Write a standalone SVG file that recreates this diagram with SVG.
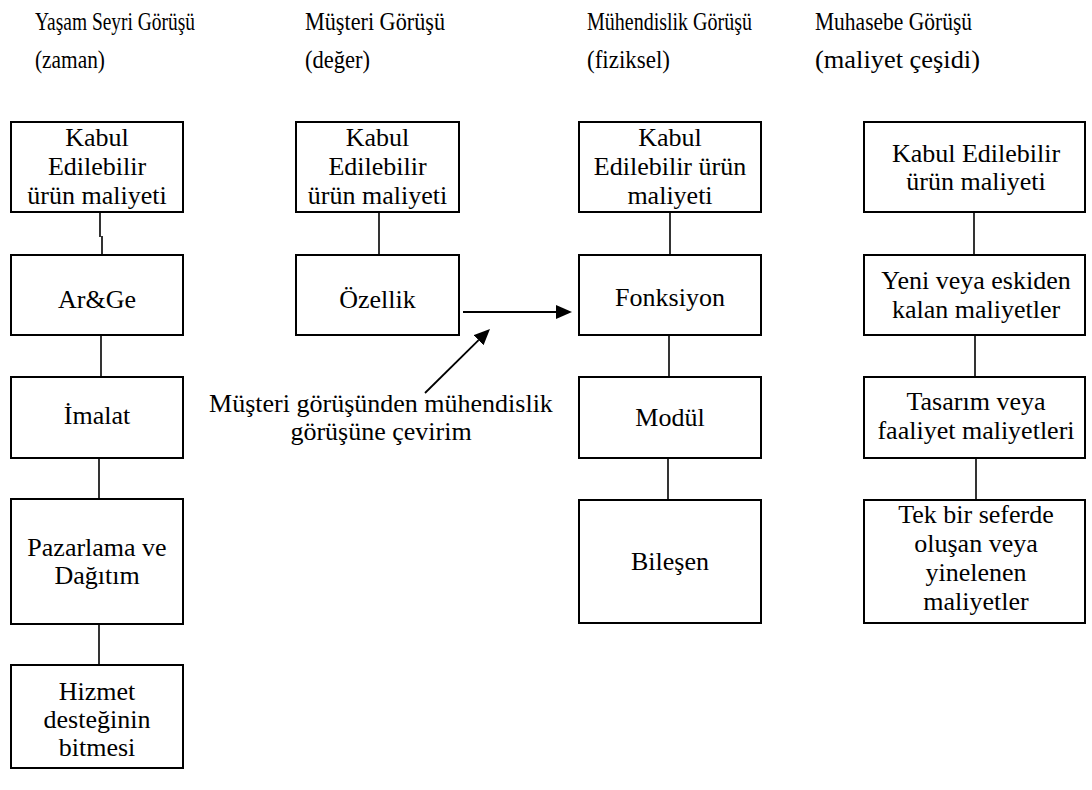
<svg xmlns="http://www.w3.org/2000/svg" width="1092" height="790" viewBox="0 0 1092 790">
  <style>
    .box { fill: #ffffff; stroke: #000000; stroke-width: 2; }
    .t { font-family: "Liberation Serif", "Times New Roman", Tinos, "DejaVu Serif", serif; font-size: 26px; fill: #000000; text-anchor: middle; }
    .h { font-family: "Liberation Serif", "Times New Roman", Tinos, "DejaVu Serif", serif; font-size: 26px; fill: #000000; }
    .link { fill: none; stroke: #000000; stroke-width: 1.6; }
    .arrow { fill: none; stroke: #000000; stroke-width: 1.8; }
  </style>
  <defs>
    <marker id="head" markerUnits="userSpaceOnUse" markerWidth="17" markerHeight="15" refX="0" refY="7" orient="auto">
      <path d="M0,0 L16,7 L0,14 z" fill="#000000"/>
    </marker>
  </defs>
  <rect width="1092" height="790" fill="#ffffff"/>

  <!-- column headings -->
  <g id="headings">
    <text class="h" x="35" y="30" textLength="160" lengthAdjust="spacingAndGlyphs">Yaşam Seyri Görüşü</text>
    <text class="h" x="35" y="68" textLength="70" lengthAdjust="spacingAndGlyphs">(zaman)</text>
    <text class="h" x="305" y="30" textLength="140" lengthAdjust="spacingAndGlyphs">Müşteri Görüşü</text>
    <text class="h" x="305" y="68" textLength="65" lengthAdjust="spacingAndGlyphs">(değer)</text>
    <text class="h" x="587" y="30" textLength="165" lengthAdjust="spacingAndGlyphs">Mühendislik Görüşü</text>
    <text class="h" x="587" y="68" textLength="83" lengthAdjust="spacingAndGlyphs">(fiziksel)</text>
    <text class="h" x="815" y="30" textLength="157" lengthAdjust="spacingAndGlyphs">Muhasebe Görüşü</text>
    <text class="h" x="815" y="68" textLength="165" lengthAdjust="spacingAndGlyphs">(maliyet çeşidi)</text>
  </g>

  <!-- connectors -->
  <g id="connectors">
    <path class="link" d="M100,212 V237 M102,236 V255"/>
    <path class="link" d="M101,335 V377"/>
    <path class="link" d="M99,458 V499"/>
    <path class="link" d="M99,624 V665"/>
    <path class="link" d="M379,212 V255"/>
    <path class="link" d="M670,212 V255"/>
    <path class="link" d="M669,335 V377"/>
    <path class="link" d="M668,458 V500"/>
    <path class="link" d="M974,212 V255"/>
    <path class="link" d="M975,335 V377"/>
    <path class="link" d="M976,458 V500"/>
    <line class="arrow" x1="463" y1="312" x2="556" y2="312" marker-end="url(#head)"/>
    <line class="arrow" x1="425" y1="393" x2="478.6" y2="340.2" marker-end="url(#head)"/>
  </g>

  <!-- life-cycle column -->
  <g id="yasam-kabul">
    <rect class="box" x="11" y="122" width="172" height="90"/>
    <text class="t" x="97" y="146">Kabul</text>
    <text class="t" x="97" y="175">Edilebilir</text>
    <text class="t" x="97" y="204">ürün maliyeti</text>
  </g>
  <g id="arge">
    <rect class="box" x="11" y="255" width="172" height="80"/>
    <text class="t" x="97" y="308">Ar&amp;Ge</text>
  </g>
  <g id="imalat">
    <rect class="box" x="11" y="377" width="172" height="81"/>
    <text class="t" x="97" y="424">İmalat</text>
  </g>
  <g id="pazarlama">
    <rect class="box" x="11" y="499" width="172" height="125"/>
    <text class="t" x="97" y="556">Pazarlama ve</text>
    <text class="t" x="97" y="584">Dağıtım</text>
  </g>
  <g id="hizmet">
    <rect class="box" x="11" y="665" width="172" height="103"/>
    <text class="t" x="97" y="700">Hizmet</text>
    <text class="t" x="97" y="728">desteğinin</text>
    <text class="t" x="97" y="756">bitmesi</text>
  </g>

  <!-- customer column -->
  <g id="musteri-kabul">
    <rect class="box" x="296" y="122" width="163" height="90"/>
    <text class="t" x="377.5" y="146">Kabul</text>
    <text class="t" x="377.5" y="175">Edilebilir</text>
    <text class="t" x="377.5" y="204">ürün maliyeti</text>
  </g>
  <g id="ozellik">
    <rect class="box" x="296" y="255" width="163" height="80"/>
    <text class="t" x="377.5" y="308">Özellik</text>
  </g>
  <g id="cevirim-note">
    <text class="t" x="381" y="412">Müşteri görüşünden mühendislik</text>
    <text class="t" x="381" y="440">görüşüne çevirim</text>
  </g>

  <!-- engineering column -->
  <g id="muhendislik-kabul">
    <rect class="box" x="579" y="122" width="182" height="90"/>
    <text class="t" x="670" y="146">Kabul</text>
    <text class="t" x="670" y="175">Edilebilir ürün</text>
    <text class="t" x="670" y="204">maliyeti</text>
  </g>
  <g id="fonksiyon">
    <rect class="box" x="579" y="255" width="182" height="80"/>
    <text class="t" x="670" y="306">Fonksiyon</text>
  </g>
  <g id="modul">
    <rect class="box" x="579" y="377" width="182" height="81"/>
    <text class="t" x="670" y="426">Modül</text>
  </g>
  <g id="bilesen">
    <rect class="box" x="579" y="500" width="182" height="123"/>
    <text class="t" x="670" y="570">Bileşen</text>
  </g>

  <!-- accounting column -->
  <g id="muhasebe-kabul">
    <rect class="box" x="864" y="122" width="221" height="90"/>
    <text class="t" x="976" y="162">Kabul Edilebilir</text>
    <text class="t" x="976" y="190">ürün maliyeti</text>
  </g>
  <g id="yeni-eski">
    <rect class="box" x="864" y="255" width="221" height="80"/>
    <text class="t" x="976" y="289">Yeni veya eskiden</text>
    <text class="t" x="976" y="318">kalan maliyetler</text>
  </g>
  <g id="tasarim">
    <rect class="box" x="864" y="377" width="221" height="81"/>
    <text class="t" x="976" y="410">Tasarım veya</text>
    <text class="t" x="976" y="439">faaliyet maliyetleri</text>
  </g>
  <g id="tek-seferde">
    <rect class="box" x="864" y="500" width="221" height="123"/>
    <text class="t" x="976" y="523">Tek bir seferde</text>
    <text class="t" x="976" y="552">oluşan veya</text>
    <text class="t" x="976" y="581">yinelenen</text>
    <text class="t" x="976" y="610">maliyetler</text>
  </g>
</svg>
